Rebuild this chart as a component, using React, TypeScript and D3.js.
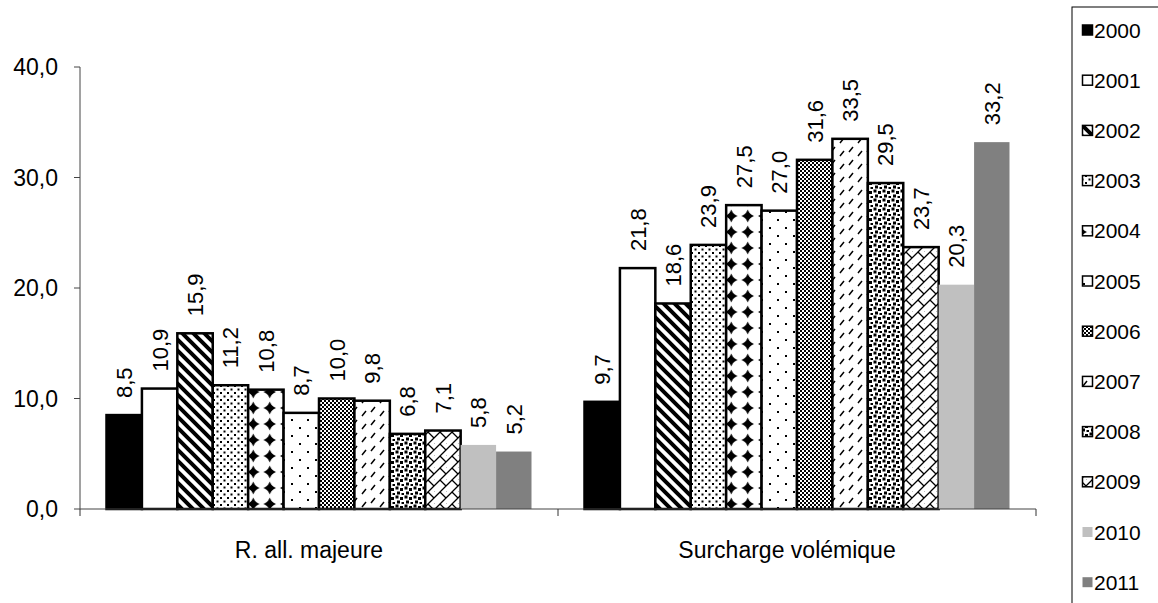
import React from "react";
import * as d3 from "d3";

const categories = ["R. all. majeure", "Surcharge volémique"];
const years = ["2000", "2001", "2002", "2003", "2004", "2005", "2006", "2007", "2008", "2009", "2010", "2011"];
const allergicValues = [8.5, 10.9, 15.9, 11.2, 10.8, 8.7, 10.0, 9.8, 6.8, 7.1, 5.8, 5.2];
const overloadValues = [9.7, 21.8, 18.6, 23.9, 27.5, 27.0, 31.6, 33.5, 29.5, 23.7, 20.3, 33.2];
const yTicks = [0, 10, 20, 30, 40];

const W = 1158;
const H = 603;
const M = { left: 80, right: 1036, top: 67, bottom: 509 };
const FONT = "'Liberation Sans', Arial, Helvetica, sans-serif";

const fmt = (v: number) => v.toFixed(1).replace(".", ",");

// fill for each year: solid colours or a pattern id
const fills = [
  "#000000",
  "#ffffff",
  "url(#p2002)",
  "url(#p2003)",
  "url(#p2004)",
  "url(#p2005)",
  "url(#p2006)",
  "url(#p2007)",
  "url(#p2008)",
  "url(#p2009)",
  "#c0c0c0",
  "#808080",
];
const outlined = years.map((_, i) => i < 10);

function Patterns() {
  return (
    <defs>
      <pattern id="p2002" width="11" height="11" patternUnits="userSpaceOnUse">
        <rect width="11" height="11" fill="#fff" />
        <path d="M-3,-3 L14,14 M-3,8 L3,14 M8,-3 L14,3" stroke="#000" strokeWidth="4" />
      </pattern>
      <pattern id="p2003" width="7" height="7" patternUnits="userSpaceOnUse">
        <rect width="7" height="7" fill="#fff" />
        <rect x="0" y="0" width="2" height="2" fill="#000" />
        <rect x="3.5" y="3.5" width="2" height="2" fill="#000" />
      </pattern>
      <pattern id="p2004" width="16.5" height="16" patternUnits="userSpaceOnUse">
        <rect width="16.5" height="16" fill="#fff" />
        <path d="M8.25,1.5 L10.2,5.8 L14.5,8 L10.2,10.2 L8.25,14.5 L6.3,10.2 L2,8 L6.3,5.8 Z" fill="#000" />
        <path d="M8.25,3 L13,8 L8.25,13 L3.5,8 Z" fill="#000" />
      </pattern>
      <pattern id="p2005" width="16" height="16" patternUnits="userSpaceOnUse">
        <rect width="16" height="16" fill="#fff" />
        <rect x="3" y="3" width="2" height="2" fill="#000" />
        <rect x="11" y="11" width="2" height="2" fill="#000" />
      </pattern>
      <pattern id="p2006" width="4" height="4" patternUnits="userSpaceOnUse">
        <rect width="4" height="4" fill="#fff" />
        <rect x="0" y="0" width="2" height="2" fill="#000" />
        <rect x="2" y="2" width="2" height="2" fill="#000" />
      </pattern>
      <pattern id="p2007" width="18" height="13" patternUnits="userSpaceOnUse">
        <rect width="18" height="13" fill="#fff" />
        <path d="M3,9 L7,4 M12,13 L16,8 M12,0 L13,-1" stroke="#000" strokeWidth="1.5" />
      </pattern>
      <pattern id="p2008" width="9" height="9" patternUnits="userSpaceOnUse">
        <rect width="9" height="9" fill="#fff" />
        <rect x="0.5" y="0.5" width="3" height="3" fill="#000" />
        <rect x="5" y="2" width="3" height="3" fill="#000" />
        <rect x="2" y="5.5" width="3" height="3" fill="#000" />
        <rect x="6.5" y="7" width="2.5" height="2" fill="#000" />
      </pattern>
      <pattern id="p2009" width="12" height="12" patternUnits="userSpaceOnUse">
        <rect width="12" height="12" fill="#fff" />
        <path d="M-2,14 L14,-2 M-2,2 L2,-2 M10,14 L14,10" stroke="#000" strokeWidth="1.3" />
        <path d="M0,0 L6,6 M6,12 L12,18 M6,-6 L12,0" stroke="#000" strokeWidth="1.3" />
      </pattern>
    </defs>
  );
}

export default function App() {
  const x0 = d3.scaleBand<string>().domain(categories).range([M.left, M.right]).paddingInner(0).paddingOuter(0);
  const groupPad = 26.5;
  const x1 = d3
    .scaleBand<string>()
    .domain(years)
    .range([groupPad, x0.bandwidth() - groupPad])
    .padding(0);
  const y = d3.scaleLinear().domain([0, 40]).range([M.bottom, M.top]);

  const series = [allergicValues, overloadValues];
  const labelFs = 22;
  const axisFs = 23;
  const legendFs = 21;
  const catLabelShift = -10;

  return (
    <svg
      width={W}
      height={H}
      style={{ position: "absolute", left: 0, top: 0, background: "#fff" }}
      fontFamily={FONT}
    >
      <Patterns />
      <rect width={W} height={H} fill="#fff" />

      {/* bars with value labels */}
      {categories.map((cat, ci) => (
        <g key={cat} transform={`translate(${x0(cat)},0)`}>
          {years.map((yr, i) => {
            const v = series[ci][i];
            const bx = x1(yr)!;
            const bw = x1.bandwidth();
            const top = y(v);
            return (
              <g key={yr}>
                <rect
                  x={bx}
                  y={top}
                  width={bw}
                  height={y(0) - top}
                  fill={fills[i]}
                  stroke={outlined[i] ? "#000" : "none"}
                  strokeWidth={2.5}
                />
                <text
                  transform={`translate(${bx + bw / 2},${top - 17}) rotate(-90)`}
                  dy="0.36em"
                  fontSize={labelFs}
                  fill="#000"
                >
                  {fmt(v)}
                </text>
              </g>
            );
          })}
        </g>
      ))}

      {/* y axis */}
      <line x1={M.left} x2={M.left} y1={M.top} y2={M.bottom} stroke="#444" strokeWidth={1} />
      {yTicks.map((t) => (
        <g key={t}>
          <line x1={M.left - 6} x2={M.left} y1={y(t)} y2={y(t)} stroke="#444" />
          <text x={M.left - 22} y={y(t)} dy="0.36em" textAnchor="end" fontSize={axisFs}>
            {fmt(t)}
          </text>
        </g>
      ))}

      {/* x axis */}
      <line x1={M.left} x2={M.right} y1={M.bottom} y2={M.bottom} stroke="#444" strokeWidth={1.2} />
      {[M.left, x0(categories[1])!, M.right].map((tx, i) => (
        <line key={i} x1={tx} x2={tx} y1={M.bottom} y2={M.bottom + 7} stroke="#333" />
      ))}
      {categories.map((cat) => (
        <text
          key={cat}
          x={x0(cat)! + x0.bandwidth() / 2 + catLabelShift}
          y={550}
          dy="0.36em"
          textAnchor="middle"
          fontSize={axisFs}
        >
          {cat}
        </text>
      ))}

      {/* legend */}
      <rect x={1072} y={7} width={200} height={700} fill="#fff" stroke="#000" strokeWidth={1} />
      {years.map((yr, i) => {
        const ly = 30 + 50.2 * i;
        return (
          <g key={yr}>
            <rect
              x={1082.5}
              y={ly - 5}
              width={10}
              height={10}
              fill={fills[i]}
              stroke={outlined[i] ? "#000" : "none"}
              strokeWidth={1.5}
            />
            <text x={1094} y={ly} dy="0.36em" fontSize={legendFs}>
              {yr}
            </text>
          </g>
        );
      })}
    </svg>
  );
}
